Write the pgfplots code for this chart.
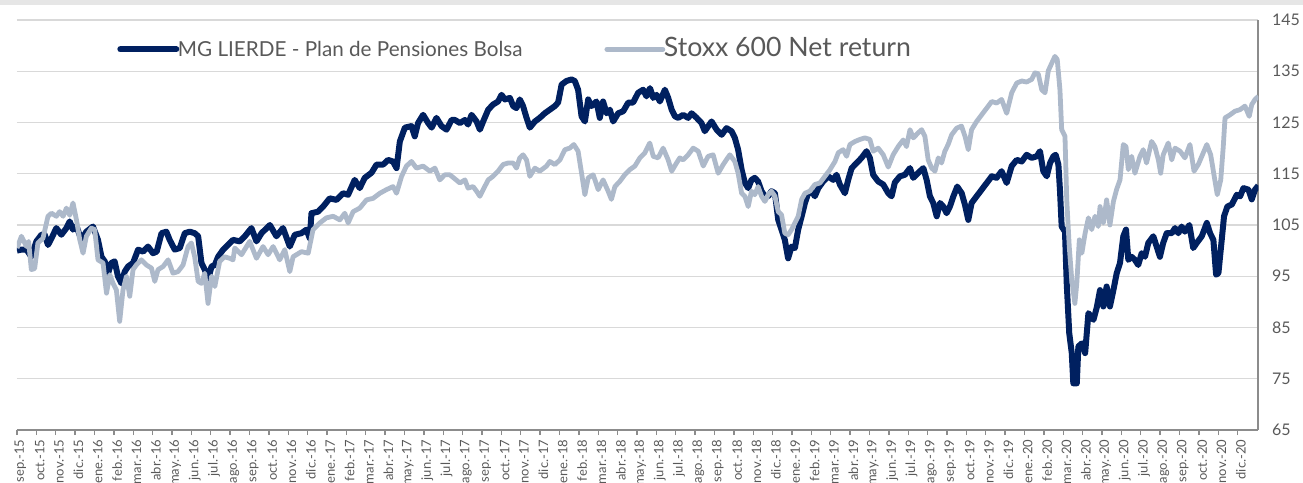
\documentclass[border=0pt]{standalone}
\usepackage{pgfplots}
\pgfplotsset{compat=1.18}
\usepackage{fontspec}
\setmainfont{Lato}
\definecolor{navy}{HTML}{002060}
\definecolor{stoxx}{HTML}{ADB9CA}
\definecolor{gridc}{HTML}{D9D9D9}
\definecolor{axc}{HTML}{8C8C8C}
\definecolor{txt}{HTML}{595959}
\definecolor{topbar}{HTML}{E6E6E6}
\begin{document}
\begin{tikzpicture}
\useasboundingbox (0,0) rectangle (977.25pt,361.5pt);
\clip (0,0) rectangle (977.25pt,361.5pt);
\fill[topbar] (0,357.75pt) rectangle (977.25pt,361.5pt);
\begin{axis}[
  at={(12.75pt,39pt)}, anchor=south west,
  width=931pt, height=307.5pt, scale only axis,
  xmin=0, xmax=64.07, ymin=65, ymax=145,
  axis x line*=bottom, axis y line*=right,
  axis line style={-, draw=axc, line width=1.5pt},
  ytick={65,75,...,145},
  ymajorgrids, grid style={gridc, line width=1.1pt},
  ytick style={draw=none},
  yticklabel style={font=\fontsize{12pt}{14pt}\selectfont, text=txt, anchor=west, xshift=3pt},
  /pgf/number format/assume math mode=true,
  xtick={0,...,63},
  xtick style={draw=axc, line width=1.1pt},
  tick align=outside, major tick length=3.75pt,
  xticklabels={sep.-15,oct.-15,nov.-15,dic.-15,
    ene.-16,feb.-16,mar.-16,abr.-16,may.-16,jun.-16,jul.-16,ago.-16,sep.-16,oct.-16,nov.-16,dic.-16,
    ene.-17,feb.-17,mar.-17,abr.-17,may.-17,jun.-17,jul.-17,ago.-17,sep.-17,oct.-17,nov.-17,dic.-17,
    ene.-18,feb.-18,mar.-18,abr.-18,may.-18,jun.-18,jul.-18,ago.-18,sep.-18,oct.-18,nov.-18,dic.-18,
    ene.-19,feb.-19,mar.-19,abr.-19,may.-19,jun.-19,jul.-19,ago.-19,sep.-19,oct.-19,nov.-19,dic.-19,
    ene.-20,feb.-20,mar.-20,abr.-20,may.-20,jun.-20,jul.-20,ago.-20,sep.-20,oct.-20,nov.-20,dic.-20},
  xticklabel style={font=\fontsize{9.75pt}{11pt}\selectfont, text=txt, rotate=90, anchor=east, xshift=0pt, yshift=-2.5pt},
  legend columns=2,
  legend style={at={(0.0806,0.9317)}, anchor=west, draw=none, fill=none, inner sep=0pt,
    nodes={inner sep=0pt, text=txt, anchor=base west},
    /tikz/every odd column/.style={column sep=-1pt},
    /tikz/every even column/.style={column sep=61.5pt}},
  legend image code/.code={\draw[#1, line cap=round] (0pt,5.5pt) -- (42pt,5.5pt);},
]
\addplot[navy, line width=4.5pt, line join=round] coordinates {
(0,100) (0.23,100.2) (0.49,100.2) (0.74,98.8) (1.00,101.8) (1.26,103.1) (1.43,103.1) (1.60,101.1) (1.78,102.4) (2.03,104.4)
(2.29,103.1) (2.55,104.4) (2.72,105.7) (2.89,104.1) (3.07,104.8) (3.32,102.1) (3.58,103.7) (3.92,104.7) (4.18,102.1) (4.36,98.8)
(4.53,97.9) (4.70,95.6) (4.87,97.6) (5.04,97.9) (5.21,95.0) (5.39,93.6) (5.56,95.9) (5.73,96.9) (5.99,97.6) (6.25,100.2)
(6.51,99.8) (6.76,100.8) (7.02,99.5) (7.21,99.8) (7.46,103.4) (7.71,103.7) (7.88,102.1) (8.14,100.2) (8.40,100.5) (8.66,103.4)
(8.92,103.7) (9.17,103.4) (9.35,102.8) (9.52,97.6) (9.69,96.3) (9.86,94.3) (10.04,96.9) (10.21,97.2) (10.38,98.8) (10.64,100.2)
(10.89,101.1) (11.15,102.1) (11.50,101.8) (11.76,102.8) (12.10,104.4) (12.36,101.8) (12.62,103.4) (13.05,105) (13.39,102.8) (13.73,104.4)
(14.08,100.8) (14.34,103.1) (14.68,103.4) (14.94,104.1) (15.11,102.4) (15.20,107.3) (15.54,107.6) (15.80,108.6) (16.14,110.2) (16.49,109.9)
(16.83,111.2) (17.09,110.9) (17.43,113.8) (17.69,112.2) (17.95,114.2) (18.30,115.2) (18.56,116.8) (18.90,116.8) (19.15,117.7) (19.40,117.4)
(19.59,116.1) (19.76,121.3) (20.02,124) (20.36,124.3) (20.53,122.3) (20.70,124.9) (20.96,126.5) (21.22,124.9) (21.40,124) (21.65,125.9)
(21.91,124.3) (22.17,123.6) (22.43,125.5) (22.60,125.5) (22.86,124.9) (23.12,125.5) (23.28,124.6) (23.46,126.5) (23.72,125.2) (23.89,123.6)
(24.06,125.2) (24.32,127.5) (24.57,128.5) (24.83,129.1) (25.01,130.4) (25.18,129.5) (25.44,129.8) (25.61,128.2) (25.78,127.8) (25.95,129.5)
(26.12,128.2) (26.30,125.9) (26.47,124) (26.73,125.2) (26.98,125.9) (27.24,126.8) (27.50,127.5) (27.76,128.2) (27.93,128.9) (28.11,132.4)
(28.36,133.1) (28.62,133.4) (28.79,133.1) (28.96,131.4) (29.14,126.2) (29.31,125.2) (29.48,129.5) (29.65,128.2) (29.91,129.1) (30.08,125.9)
(30.25,129.1) (30.43,126.8) (30.60,127.5) (30.77,125.2) (31.03,126.8) (31.29,127.2) (31.55,128.9) (31.80,128.9) (32.06,130.8) (32.32,131.4)
(32.49,130.1) (32.67,131.7) (32.84,129.8) (33.01,130.4) (33.18,129.1) (33.44,131.4) (33.61,129.8) (33.79,127.5) (33.96,126.2) (34.13,125.9)
(34.38,126.5) (34.64,125.9) (34.82,126.8) (35.08,125.9) (35.33,124.9) (35.50,123.3) (35.68,124.3) (35.85,125.2) (36.11,123.6) (36.37,122.6)
(36.62,123.9) (36.88,123.3) (37.05,122) (37.22,119.7) (37.40,115.8) (37.57,113.2) (37.74,112.2) (37.91,113.8) (38.08,114.2) (38.25,113.5)
(38.43,111.6) (38.60,110.6) (38.77,110.6) (38.94,111.6) (39.12,111.2) (39.29,106) (39.46,104.1) (39.63,102.1) (39.80,98.5) (39.98,100.8)
(40.15,100.5) (40.32,104.1) (40.50,106.7) (40.67,109.3) (40.84,111.2) (41.01,111.6) (41.18,110.6) (41.36,112.2) (41.61,113.5) (41.87,114.5)
(42.13,113.8) (42.30,114.8) (42.47,112.9) (42.73,111.2) (42.90,113.8) (43.08,116.1) (43.34,117.1) (43.59,118.1) (43.85,119.4) (44.02,118.1)
(44.19,114.8) (44.45,113.5) (44.71,112.9) (44.97,111.2) (45.14,110.6) (45.31,113.3) (45.57,114.5) (45.83,114.8) (46.09,116.1) (46.26,114.2)
(46.52,115.2) (46.78,116.1) (46.95,113.8) (47.12,110.6) (47.29,109.3) (47.47,106.7) (47.64,109.3) (47.81,108.6) (47.98,107.3) (48.15,108.6)
(48.33,110.6) (48.53,112.5) (48.76,111.2) (48.93,108.9) (49.10,106) (49.27,109.3) (49.53,110.6) (49.79,111.9) (50.05,113.2) (50.31,114.5)
(50.56,114.2) (50.82,115.5) (51.08,113.2) (51.34,116.5) (51.60,117.7) (51.86,117.4) (52.11,118.7) (52.37,118.1) (52.63,118.4) (52.80,119.4)
(52.97,115.5) (53.15,114.5) (53.32,117.1) (53.49,118.4) (53.61,118.7) (53.75,116.8) (53.83,111.9) (53.92,104.7) (54.09,103.7) (54.18,93.6)
(54.31,83.9) (54.44,80) (54.52,74.1) (54.70,74.1) (54.78,81.3) (54.96,81.9) (55.13,80) (55.30,87.8) (55.56,86.5) (55.73,88.9)
(55.90,92.3) (56.07,89.1) (56.24,93) (56.41,89.1) (56.59,92.3) (56.76,95.6) (56.93,97.6) (57.10,102.8) (57.24,104.1) (57.36,98.2)
(57.53,98.8) (57.70,98.2) (57.87,97.2) (58.05,99.5) (58.22,98.8) (58.39,101.5) (58.65,102.8) (58.82,100.8) (58.99,98.8) (59.16,101.5)
(59.34,103.4) (59.60,103.4) (59.77,104.4) (59.94,103.4) (60.11,104.7) (60.28,103.7) (60.51,105) (60.71,100.5) (60.89,101.5) (61.15,102.8)
(61.41,105.4) (61.58,103.4) (61.75,102.1) (61.89,95.3) (62.01,95.6) (62.18,102.1) (62.30,106.7) (62.47,108.6) (62.70,109) (62.96,110.9)
(63.13,110.6) (63.30,112.2) (63.56,111.9) (63.73,110) (63.90,111.9) (64.07,112.7)
};
\addlegendentry{\fontsize{15.5pt}{18pt}\selectfont MG LIERDE - Plan de Pensiones Bolsa}
\addplot[stoxx, line width=3.6pt, line join=round] coordinates {
(0,100.5) (0.23,102.8) (0.49,100.8) (0.60,101.8) (0.74,96.3) (0.91,96.5) (1.08,101.5) (1.34,102.4) (1.60,106.7) (1.78,107.3)
(2.03,106.7) (2.20,107.6) (2.38,106.7) (2.55,108.3) (2.72,106.9) (2.89,109.3) (3.07,106) (3.24,102.1) (3.41,99.5) (3.58,102.8)
(3.84,104.4) (4.01,104.1) (4.18,98.2) (4.44,97.6) (4.62,91.7) (4.79,95.3) (4.96,93.6) (5.13,92.3) (5.30,86.2) (5.47,92.3)
(5.65,95) (5.82,91.1) (5.99,96.3) (6.16,97.2) (6.42,98.2) (6.68,97.2) (6.94,96.6) (7.11,94) (7.28,96.3) (7.54,96.9)
(7.80,98.2) (8.05,95.6) (8.31,95.9) (8.57,97.2) (8.83,100.8) (9.00,101.5) (9.17,98.8) (9.35,94) (9.52,93.6) (9.69,95.6)
(9.86,89.7) (10.04,95) (10.21,93) (10.46,97.9) (10.72,98.8) (10.98,98.5) (11.15,98.2) (11.24,100.5) (11.59,99.2) (12.01,101.8)
(12.36,98.5) (12.70,100.8) (12.96,99.2) (13.22,100.8) (13.56,98.2) (13.82,100.2) (14.08,95.9) (14.25,98.8) (14.68,99.8) (15.03,99.5)
(15.28,104.1) (15.63,105.4) (15.97,106.4) (16.32,106.7) (16.66,106) (16.92,107.3) (17.09,105.4) (17.35,107.6) (17.69,108.3) (18.04,109.9)
(18.38,110.2) (18.73,111.2) (19.07,111.9) (19.41,112.5) (19.59,111.2) (19.85,114.5) (20.10,116.5) (20.36,117.4) (20.62,116.1) (20.96,116.5)
(21.31,115.5) (21.57,116.1) (21.82,113.8) (22.08,114.8) (22.34,114.8) (22.60,114) (22.86,113.2) (23.12,113.8) (23.28,112.2) (23.54,112.5)
(23.72,111.6) (23.89,110.6) (24.06,111.9) (24.32,113.8) (24.57,114.5) (24.83,115.5) (25.09,116.8) (25.35,117.1) (25.61,117.1) (25.78,116.1)
(25.95,118.1) (26.12,118.7) (26.30,117.7) (26.47,114.5) (26.73,116.1) (26.98,115.5) (27.33,116.5) (27.50,117.4) (27.76,116.8) (28.02,117.7)
(28.28,119.7) (28.53,120) (28.74,120.7) (28.96,119.4) (29.14,115.1) (29.31,110.9) (29.48,114.2) (29.74,114.8) (30.00,111.9) (30.25,113.8)
(30.51,111.6) (30.68,110) (30.86,112.5) (31.11,113.5) (31.37,114.8) (31.63,115.8) (31.89,116.5) (32.15,118.1) (32.41,119.1) (32.66,121)
(32.84,118.4) (33.09,118.1) (33.35,120) (33.61,117.7) (33.79,115.5) (34.04,117.1) (34.21,118.1) (34.38,117.7) (34.64,118.7) (34.90,120)
(35.16,119.4) (35.42,116.5) (35.67,118.4) (35.93,118.7) (36.19,115.1) (36.45,116.8) (36.79,118.7) (37.05,117.4) (37.22,115.1) (37.40,111.2)
(37.57,110.6) (37.74,108.6) (37.91,111.6) (38.08,110.9) (38.25,112.5) (38.43,110.6) (38.60,109.6) (38.77,110.9) (38.94,111.6) (39.12,110.6)
(39.29,107.6) (39.46,107) (39.63,103.4) (39.80,103.1) (39.98,104.1) (40.15,105.4) (40.32,106.7) (40.50,110) (40.67,111.2) (40.92,111.6)
(41.18,112.9) (41.44,113.2) (41.70,114.5) (41.96,115.8) (42.22,117.4) (42.39,119.1) (42.64,119.7) (42.82,118.4) (42.99,120.7) (43.25,121.3)
(43.51,121.7) (43.76,122) (44.02,121.7) (44.19,119.4) (44.45,120) (44.71,118.7) (44.97,116.3) (45.22,118.7) (45.48,120.3) (45.74,121.6)
(45.91,120.3) (46.09,123.6) (46.26,122) (46.52,123) (46.69,123.6) (46.86,122.3) (47.03,117.7) (47.21,116.1) (47.38,115.5) (47.55,118.1)
(47.72,117.1) (47.89,119.4) (48.06,120.7) (48.24,122.6) (48.50,123.9) (48.75,124.3) (48.93,122.3) (49.10,119.7) (49.27,123.6) (49.53,125.2)
(49.79,126.5) (50.05,127.8) (50.31,129.1) (50.56,128.8) (50.82,129.5) (51.08,126.8) (51.34,130.8) (51.60,132.7) (51.86,133.1) (52.11,132.9)
(52.37,133.4) (52.54,134.7) (52.71,134.5) (52.89,131.4) (53.06,130.8) (53.23,135.1) (53.41,136.6) (53.57,137.9) (53.69,137.3) (53.83,131.4)
(53.92,123.6) (54.09,122.3) (54.18,110) (54.31,100.8) (54.44,94.3) (54.60,89.7) (54.70,93.6) (54.83,102.1) (54.96,99.5) (55.13,103.4)
(55.30,106.4) (55.47,104.1) (55.64,106.7) (55.81,104.7) (55.90,108.6) (56.07,105.4) (56.24,109.9) (56.41,105) (56.59,109.6) (56.76,112)
(56.93,113.8) (57.10,120.7) (57.24,120.3) (57.36,115.8) (57.53,118.4) (57.70,115.1) (57.96,118.4) (58.13,119.7) (58.30,117.1) (58.56,121.3)
(58.73,120.3) (58.91,117.7) (59.03,115.1) (59.16,118.7) (59.42,121) (59.60,117.7) (59.77,120) (60.03,119.4) (60.28,118.1) (60.54,120.7)
(60.75,115.5) (60.97,116.8) (61.23,119.1) (61.41,120.7) (61.61,118.7) (61.78,114.8) (61.95,110.9) (62.13,113.8) (62.26,120.3) (62.35,125.9)
(62.61,126.5) (62.86,127.2) (63.12,127.5) (63.38,128.2) (63.60,126.2) (63.73,128.5) (63.90,129.5) (64.07,130.1)
};
\addlegendentry{\fontsize{20pt}{24pt}\selectfont Stoxx 600 Net return}
\end{axis}
\end{tikzpicture}
\end{document}
